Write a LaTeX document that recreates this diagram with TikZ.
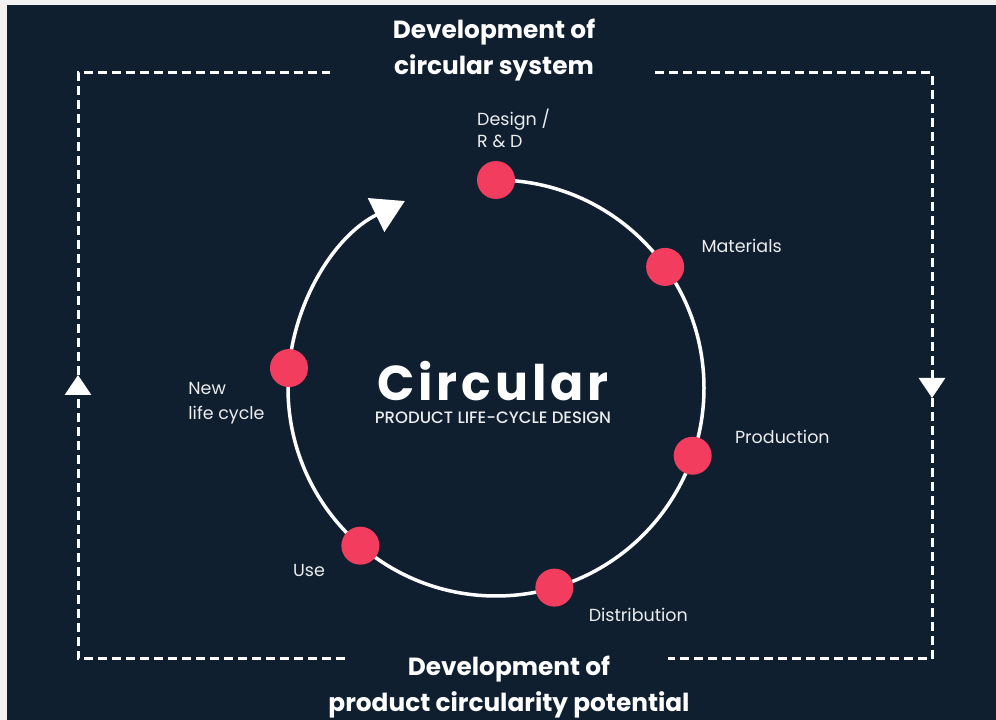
\documentclass[tikz,border=0pt]{standalone}
\usepackage{fontspec}
\setmainfont{Poppins}
\newfontfamily\brandfont{Poppins}[LetterSpace=8]
\newfontfamily\mediumfont{Poppins Medium}
\usetikzlibrary{
  arrows.meta,
  positioning
}
\definecolor{navy}{RGB}{15,31,48}
\definecolor{dotred}{RGB}{242,61,94}
\definecolor{paper}{RGB}{242,242,242}
\definecolor{ink}{RGB}{236,236,236}

\begin{document}
\begin{tikzpicture}[
      x=1pt,y=1pt,
      stagedot/.style={
         circle,
         fill=dotred,
         minimum size=38pt,
         inner sep=0pt
      },
      stagelabel/.style={
         text=ink,
         inner sep=0pt,
         align=left,
         font=\fontsize{17.5}{22}\selectfont
      },
      heading/.style={
         text=white,
         inner sep=0pt,
         align=center,
         font=\bfseries\fontsize{24.8}{36}\selectfont
      },
      ring/.style={draw=white, line width=3.5pt},
      loopline/.style={draw=white, line width=3pt, dash pattern=on 9pt off 5pt},
      bigtip/.style={-{Triangle[width=37pt,length=32pt]}},
      smalltip/.style={-{Triangle[width=26pt,length=20pt]}}
    ]
    % page and dark panel
    \fill[paper] (0,0) rectangle (996,720);
    \fill[navy] (7,0) rectangle (996,715);
    \useasboundingbox (0,0) rectangle (996,720);

    % outer dashed loop
    \coordinate (tl) at (78,647);
    \coordinate (tr) at (932,647);
    \coordinate (bl) at (78,61);
    \coordinate (br) at (932,61);
    \coordinate (topleftend) at (330,647);
    \coordinate (toprightend) at (655,647);
    \coordinate (botleftend) at (345,61);
    \coordinate (botrightend) at (668,61);
    \coordinate (uptip) at (78,345);
    \coordinate (downtip) at (932,322);

    \draw[loopline, smalltip] (botleftend) -- (bl) -- (uptip);
    \draw[loopline] (uptip) -- (tl) -- (topleftend);
    \draw[loopline, smalltip] (toprightend) -- (tr) -- (downtip);
    \draw[loopline] (downtip) -- (br) -- (botrightend);

    \node[heading] (systemtitle) at (494,670) {Development of\\circular system};
    \node[heading] (producttitle) at (509,33) {Development of\\product circularity potential};

    % life-cycle ring
    \coordinate (hub) at (496,332);
    \draw[ring, bigtip] (hub) ++(90:208) arc[start angle=90, end angle=-244, radius=208];

    \path (hub) ++(90:208) node[stagedot] (design) {};
    \path (hub) ++(35.6:208) node[stagedot] (materials) {};
    \path (hub) ++(-19:208) node[stagedot] (production) {};
    \path (hub) ++(-73.7:208) node[stagedot] (distribution) {};
    \path (hub) ++(-130.7:208) node[stagedot] (use) {};
    \path (hub) ++(174.5:208) node[stagedot] (newcycle) {};

    \node[stagelabel, above=13pt of design, anchor=south west, xshift=-19pt] (designlbl) {Design /\\R \& D};
    \node[stagelabel, right=17pt of materials, yshift=21pt] (materialslbl) {Materials};
    \node[stagelabel, right=23pt of production, yshift=19pt] (productionlbl) {Production};
    \node[stagelabel, right=15pt of distribution, yshift=-27pt] (distributionlbl) {Distribution};
    \node[stagelabel, left=16pt of use, yshift=-25pt] (uselbl) {Use};
    \node[stagelabel, left=5pt of newcycle, yshift=-35pt, font=\fontsize{17.5}{25}\selectfont] (newcyclelbl) {New\\life cycle};

    % centre title
    \node[text=white, inner sep=0pt, font=\brandfont\bfseries\fontsize{49}{49}\selectfont] (brand) at (493,339) {Circular};
    \node[text=ink, inner sep=0pt, below=11pt of brand, font=\mediumfont\fontsize{16.5}{17}\selectfont] (subtitle) {PRODUCT LIFE-CYCLE DESIGN};
\end{tikzpicture}
\end{document}
